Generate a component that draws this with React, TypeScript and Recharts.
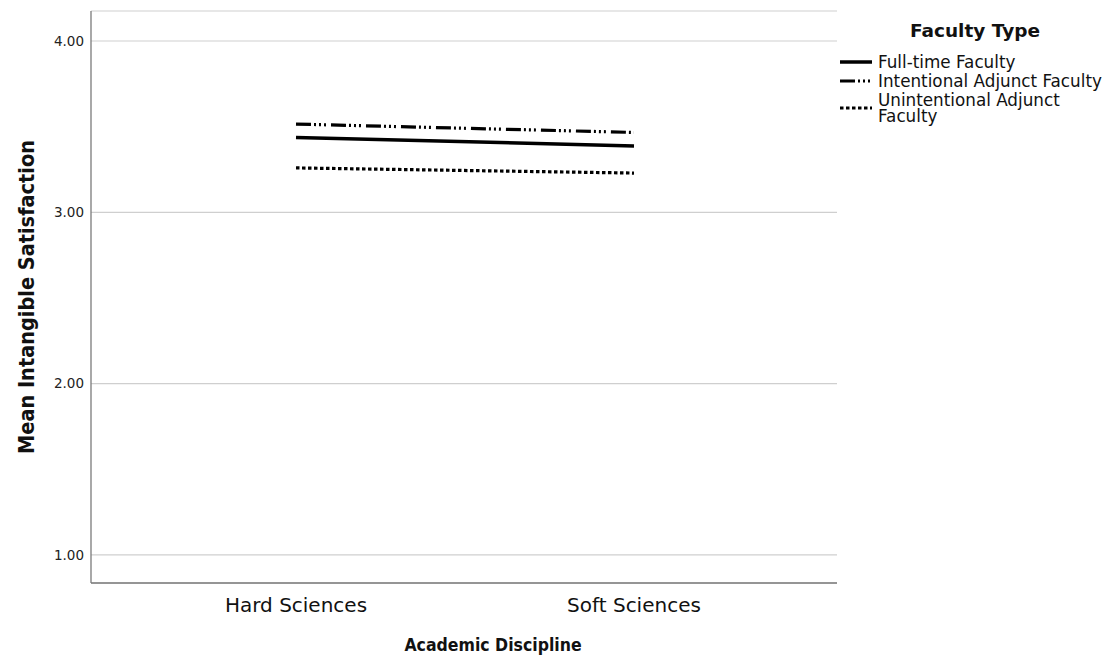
import { LineChart, Line, XAxis, YAxis, CartesianGrid, Label } from "recharts";

// mean intangible satisfaction by academic discipline, per faculty type
const disciplines = ["Hard Sciences", "Soft Sciences"];
const fullTime = [3.437, 3.387];
const intentionalAdjunct = [3.515, 3.466];
const unintentionalAdjunct = [3.259, 3.229];
const yTicks = [1, 2, 3, 4];

const series = [
  { key: "fullTime", name: "Full-time Faculty", dash: undefined, width: 3.5 },
  { key: "intentional", name: "Intentional Adjunct Faculty", dash: "15 3 2 3 2 3 2 5", width: 3.2 },
  { key: "unintentional", name: "Unintentional Adjunct Faculty", dash: "3.5 2.5", width: 3.2 },
];

const data = disciplines.map((d, i) => ({
  discipline: d,
  fullTime: fullTime[i],
  intentional: intentionalAdjunct[i],
  unintentional: unintentionalAdjunct[i],
}));

const FONT = "'DejaVu Sans', sans-serif";
const TITLE_FONT = "'DejaVu Sans Condensed', 'Liberation Sans Narrow', 'DejaVu Sans', sans-serif";
const AXIS = "#7a7a7a";

function FacultyLegend() {
  return (
    <div style={{ position: "absolute", left: 840, top: 0, width: 267, fontFamily: FONT, color: "#111" }}>
      <div
        style={{
          position: "absolute",
          top: 20,
          left: 0,
          width: 270,
          textAlign: "center",
          fontWeight: "bold",
          fontSize: 18.5,
          lineHeight: "22px",
        }}
      >
        Faculty Type
      </div>
      <div style={{ position: "absolute", top: 54, left: 0 }}>
        {series.map((s) => (
          <div key={s.key} style={{ display: "flex", alignItems: "center", marginBottom: 3 }}>
            <svg width={32} height={16} style={{ flex: "none" }}>
              <line x1={0} x2={32} y1={8} y2={8} stroke="#000" strokeWidth={s.width} strokeDasharray={s.dash} />
            </svg>
            <div style={{ marginLeft: 6, width: 228, fontSize: 16.8, lineHeight: "16px" }}>{s.name}</div>
          </div>
        ))}
      </div>
    </div>
  );
}

export default function App() {
  return (
    <div style={{ position: "absolute", left: 0, top: 0, width: 1107, height: 656, background: "#fff" }}>
      <LineChart width={1107} height={656} data={data} margin={{ top: 11, right: 270, bottom: 0, left: 31 }}>
        <CartesianGrid vertical={false} stroke="#cfcfcf" strokeWidth={1.2} />
        <XAxis
          dataKey="discipline"
          height={73}
          padding={{ left: 205, right: 203 }}
          tickLine={false}
          tickSize={0}
          tickMargin={15}
          axisLine={{ stroke: AXIS, strokeWidth: 1.3 }}
          tick={{ fontFamily: FONT, fontSize: 20, fill: "#111" }}
        >
          <Label
            value="Academic Discipline"
            position="insideBottom"
            offset={5}
            dx={29}
            style={{ fontFamily: TITLE_FONT, fontSize: 17.5, fontWeight: "bold", fill: "#111" }}
          />
        </XAxis>
        <YAxis
          type="number"
          width={60}
          domain={[0.836, 4.175]}
          ticks={yTicks}
          tickFormatter={(v: number) => v.toFixed(2)}
          tickLine={false}
          tickSize={0}
          tickMargin={7}
          axisLine={{ stroke: AXIS, strokeWidth: 1.3 }}
          tick={{ fontFamily: FONT, fontSize: 13.5, fill: "#222" }}
        >
          <Label
            content={(props: any) => {
              const vb = props.viewBox || {};
              const cx = 26;
              const cy = vb.y + vb.height / 2;
              return (
                <text
                  x={cx}
                  y={cy}
                  transform={`rotate(-90 ${cx} ${cy})`}
                  textAnchor="middle"
                  dy="0.35em"
                  style={{ fontFamily: TITLE_FONT, fontSize: 21.5, fontWeight: "bold", fill: "#111" }}
                >
                  Mean Intangible Satisfaction
                </text>
              );
            }}
          />
        </YAxis>
        {series.map((s) => (
          <Line
            key={s.key}
            dataKey={s.key}
            name={s.name}
            type="linear"
            stroke="#000"
            strokeWidth={s.width}
            strokeDasharray={s.dash}
            dot={false}
            activeDot={false}
            isAnimationActive={false}
          />
        ))}
      </LineChart>
      <FacultyLegend />
    </div>
  );
}
